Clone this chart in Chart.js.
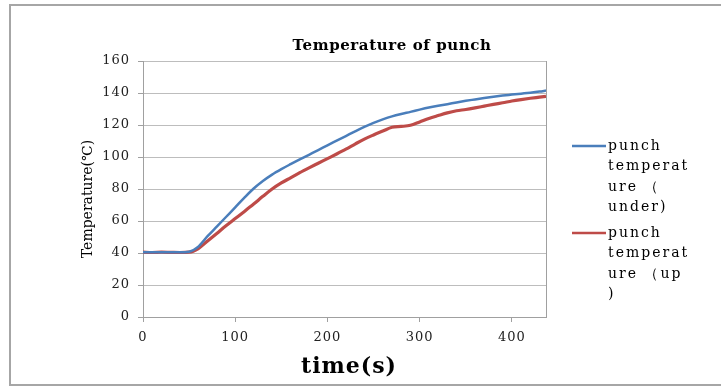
<!DOCTYPE html>
<html>
<head>
<meta charset="utf-8">
<script src="https://cdn.jsdelivr.net/npm/chart.js@4"></script>
<style>
  html, body { margin: 0; padding: 0; background: #ffffff; }
  #wrap { position: relative; width: 721px; height: 388px; }
</style>
</head>
<body>
<div id="wrap"><canvas id="c" width="721" height="388"></canvas></div>
<script>
// time (s)
const times = [0,10,20,30,40,50,60,70,80,90,100,110,120,130,140,150,160,170,180,190,200,
  210,220,230,240,250,260,270,280,290,300,310,320,330,340,350,360,370,380,390,400,410,420,430,437];

// punch temperature, lower side (℃)
const tempUnder = [40.5,40.5,40.4,40.5,40.4,40.8,44.0,50.5,56.5,62.5,68.5,74.6,80.3,85.0,89.0,92.4,95.5,98.5,101.4,104.3,107.3,
  110.2,113.1,116.0,118.8,121.3,123.5,125.4,126.9,128.2,129.6,130.9,132.0,133.0,134.1,135.1,136.0,136.9,137.7,138.4,139.0,139.6,140.2,140.9,141.5];

// punch temperature, upper side (℃)
const tempUp = [40.5,40.3,40.5,40.4,40.3,40.5,42.8,47.5,52.2,57.0,61.5,66.0,70.6,75.4,80.0,83.8,87.0,90.2,93.2,96.1,99.0,
  101.9,104.9,108.1,111.2,113.8,116.2,118.6,119.1,119.8,121.9,124.1,125.9,127.6,128.9,129.7,130.7,131.8,132.9,133.9,135.0,135.9,136.7,137.4,137.9];

const seriesNames = ['punch temperature（under)', 'punch temperature（up)'];
// wrapped legend text, as it is laid out beside the plot
const legendLines = [
  ['punch', 'temperat', 'ure （', 'under)'],
  ['punch', 'temperat', 'ure （up', ')']
];
const yTicks = [0, 20, 40, 60, 80, 100, 120, 140, 160];
const xTicks = [0, 100, 200, 300, 400];

const chartTitle = 'Temperature of punch';
const xTitle = 'time(s)';
const yTitle = 'Temperature(℃)';

const BLUE = '#4a7ebb';
const RED = '#be4b48';
const SERIF = '"DejaVu Serif", "Liberation Serif", serif';

function pts(xs, ys) { return xs.map((x, i) => ({ x: x, y: ys[i] })); }

const decor = {
  id: 'decor',
  beforeDraw(chart) {
    const ctx = chart.ctx;
    ctx.save();
    ctx.strokeStyle = '#a6a6a6';
    ctx.lineWidth = 2;
    ctx.strokeRect(10, 5, 730, 380);
    ctx.restore();
    // spaced-out lettering for the tick labels
    ctx.letterSpacing = '1px';
  },
  afterDraw(chart) {
    const ctx = chart.ctx;
    const a = chart.chartArea;
    ctx.save();
    // right border of the plot area
    ctx.strokeStyle = '#a0a0a0';
    ctx.lineWidth = 1;
    ctx.beginPath();
    ctx.moveTo(Math.round(a.right) + 0.5, a.top);
    ctx.lineTo(Math.round(a.right) + 0.5, a.bottom);
    ctx.stroke();

    ctx.fillStyle = '#000';
    ctx.textAlign = 'center';
    ctx.textBaseline = 'middle';
    // chart title
    ctx.font = 'bold 15px ' + SERIF;
    ctx.letterSpacing = '0.6px';
    ctx.fillText(chartTitle, 392, 46);
    // x axis title
    ctx.font = 'bold 22px ' + SERIF;
    ctx.letterSpacing = '1px';
    ctx.fillText(xTitle, 349, 367);
    // y axis title
    ctx.save();
    ctx.translate(88, 199);
    ctx.rotate(-Math.PI / 2);
    ctx.font = '14px ' + SERIF;
    ctx.letterSpacing = '0px';
    ctx.fillText(yTitle, 0, 0);
    ctx.restore();

    // legend
    const rows = [146, 233];
    ctx.textAlign = 'left';
    ctx.font = '14px ' + SERIF;
    ctx.letterSpacing = '2px';
    chart.data.datasets.forEach((ds, i) => {
      const y0 = rows[i];
      ctx.strokeStyle = ds.borderColor;
      ctx.lineWidth = 2.5;
      ctx.beginPath();
      ctx.moveTo(572, y0);
      ctx.lineTo(606, y0);
      ctx.stroke();
      legendLines[i].forEach((t, k) => {
        ctx.fillText(t, 608, y0 + k * 20.5);
      });
    });
    ctx.restore();
    ctx.letterSpacing = '0px';
  }
};

new Chart(document.getElementById('c'), {
  type: 'line',
  data: {
    datasets: [
      { label: seriesNames[0], data: pts(times, tempUnder), borderColor: BLUE, backgroundColor: BLUE,
        borderWidth: 2.5, pointRadius: 0, cubicInterpolationMode: 'monotone' },
      { label: seriesNames[1], data: pts(times, tempUp), borderColor: RED, backgroundColor: RED,
        borderWidth: 3.2, pointRadius: 0, cubicInterpolationMode: 'monotone' }
    ]
  },
  options: {
    responsive: false,
    animation: false,
    devicePixelRatio: 1,
    layout: { padding: { left: 0, right: 175, top: 61, bottom: 0 } },
    plugins: { legend: { display: false }, title: { display: false }, tooltip: { enabled: false } },
    scales: {
      x: {
        type: 'linear',
        min: 0,
        max: 437,
        afterBuildTicks(s) { s.ticks = xTicks.map(v => ({ value: v })); },
        afterFit(s) { s.height = 388 - 317; },
        grid: { display: true, drawOnChartArea: false, drawTicks: true, tickLength: 5, color: '#a0a0a0' },
        border: { color: '#a0a0a0', width: 1 },
        ticks: { font: { family: SERIF, size: 13 }, color: '#222', padding: 8, maxRotation: 0 }
      },
      y: {
        min: 0,
        max: 160,
        afterBuildTicks(s) { s.ticks = yTicks.map(v => ({ value: v })); },
        afterFit(s) { s.width = 143; },
        grid: { color: '#bdbdbd', tickLength: 5, tickColor: '#a0a0a0' },
        border: { color: '#a0a0a0', width: 1 },
        ticks: { font: { family: SERIF, size: 13 }, color: '#222', padding: 8 }
      }
    }
  },
  plugins: [decor]
});
</script>
</body>
</html>
